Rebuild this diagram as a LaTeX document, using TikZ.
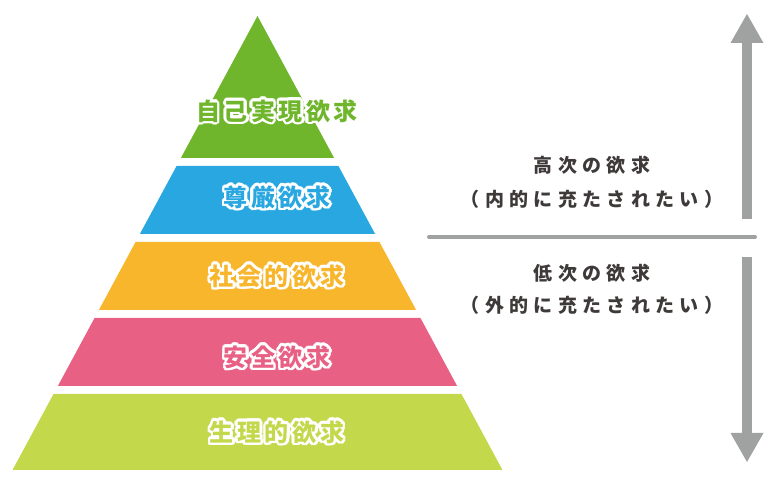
\documentclass[tikz,border=0pt]{standalone}
\usepackage{fontspec}
\usepackage{xcolor}
\usetikzlibrary{arrows.meta}
\newfontfamily\tierfont[LetterSpace=15]{Noto Sans CJK JP}
\newfontfamily\sidefont[LetterSpace=28]{Noto Sans CJK JP}
\definecolor{tierA}{HTML}{6FB62C}
\definecolor{tierB}{HTML}{29A7E1}
\definecolor{tierC}{HTML}{F8B62D}
\definecolor{tierD}{HTML}{E96085}
\definecolor{tierE}{HTML}{C3D94B}
\definecolor{rulegray}{HTML}{A0A2A1}
\definecolor{textgray}{HTML}{3E3A39}
\tikzset{
  tier text/.style={
    font=\tierfont\bfseries\fontsize{24}{24}\selectfont,
    inner sep=0pt,
  },
  side text/.style={
    font=\sidefont\bfseries\fontsize{19}{19}\selectfont,
    text=textgray,
    inner sep=0pt,
  },
  level rule/.style={line width=4pt, draw=rulegray, line cap=round},
  level arrow/.style={
    line width=10pt, draw=rulegray,
    -{Triangle[width=33pt,length=29pt,line width=0pt]},
  },
}
% coloured text with a white halo (white copies set round it in the same box)
\newcommand\haloed[2]{%
  \foreach \ang in {0,22.5,...,337.5}{%
    \pgfmathsetlengthmacro\hx{2.6pt*cos(\ang)}%
    \pgfmathsetlengthmacro\hy{2.6pt*sin(\ang)}%
    \rlap{\hspace*{\hx}\raisebox{\hy}{\textcolor{white}{#2}}}}%
  \textcolor{#1}{#2}}

\begin{document}
\begin{tikzpicture}[x=1pt,y=-1pt]
  \useasboundingbox (0,0) rectangle (764,478);
  \foreach \ttop/\tbot/\tcol in {16/158/tierA,166/234/tierB,242/310/tierC,318/386/tierD,394/470/tierE}
    \fill[\tcol] ({257.5-0.5396*(\ttop-16)},\ttop) -- ({257.5+0.5396*(\ttop-16)},\ttop)
      -- ({257.5+0.5396*(\tbot-16)},\tbot) -- ({257.5-0.5396*(\tbot-16)},\tbot) -- cycle;

  \node[tier text] (selfreal) at (277,111) {\haloed{tierA}{自己実現欲求}};
  \node[tier text] (esteem) at (277,197) {\haloed{tierB}{尊厳欲求}};
  \node[tier text] (social) at (277,276) {\haloed{tierC}{社会的欲求}};
  \node[tier text] (safety) at (277,357) {\haloed{tierD}{安全欲求}};
  \node[tier text] (body) at (277,432) {\haloed{tierE}{生理的欲求}};

  \node[side text] (high) at (592,165) {高次の欲求};
  \node[side text] (highsub) at (592,199) {（内的に充たされたい）};
  \node[side text] (low) at (592,273) {低次の欲求};
  \node[side text] (lowsub) at (592,305) {（外的に充たされたい）};

  \coordinate (ruleleft) at (429,237);
  \coordinate (ruleright) at (755,237);
  \coordinate (upfoot) at (747,219);
  \coordinate (uptip) at (747,14);
  \coordinate (downfoot) at (747,257);
  \coordinate (downtip) at (747,462);

  \draw[level rule] (ruleleft) -- (ruleright);
  \draw[level arrow] (upfoot) -- (uptip);
  \draw[level arrow] (downfoot) -- (downtip);
\end{tikzpicture}
\end{document}
